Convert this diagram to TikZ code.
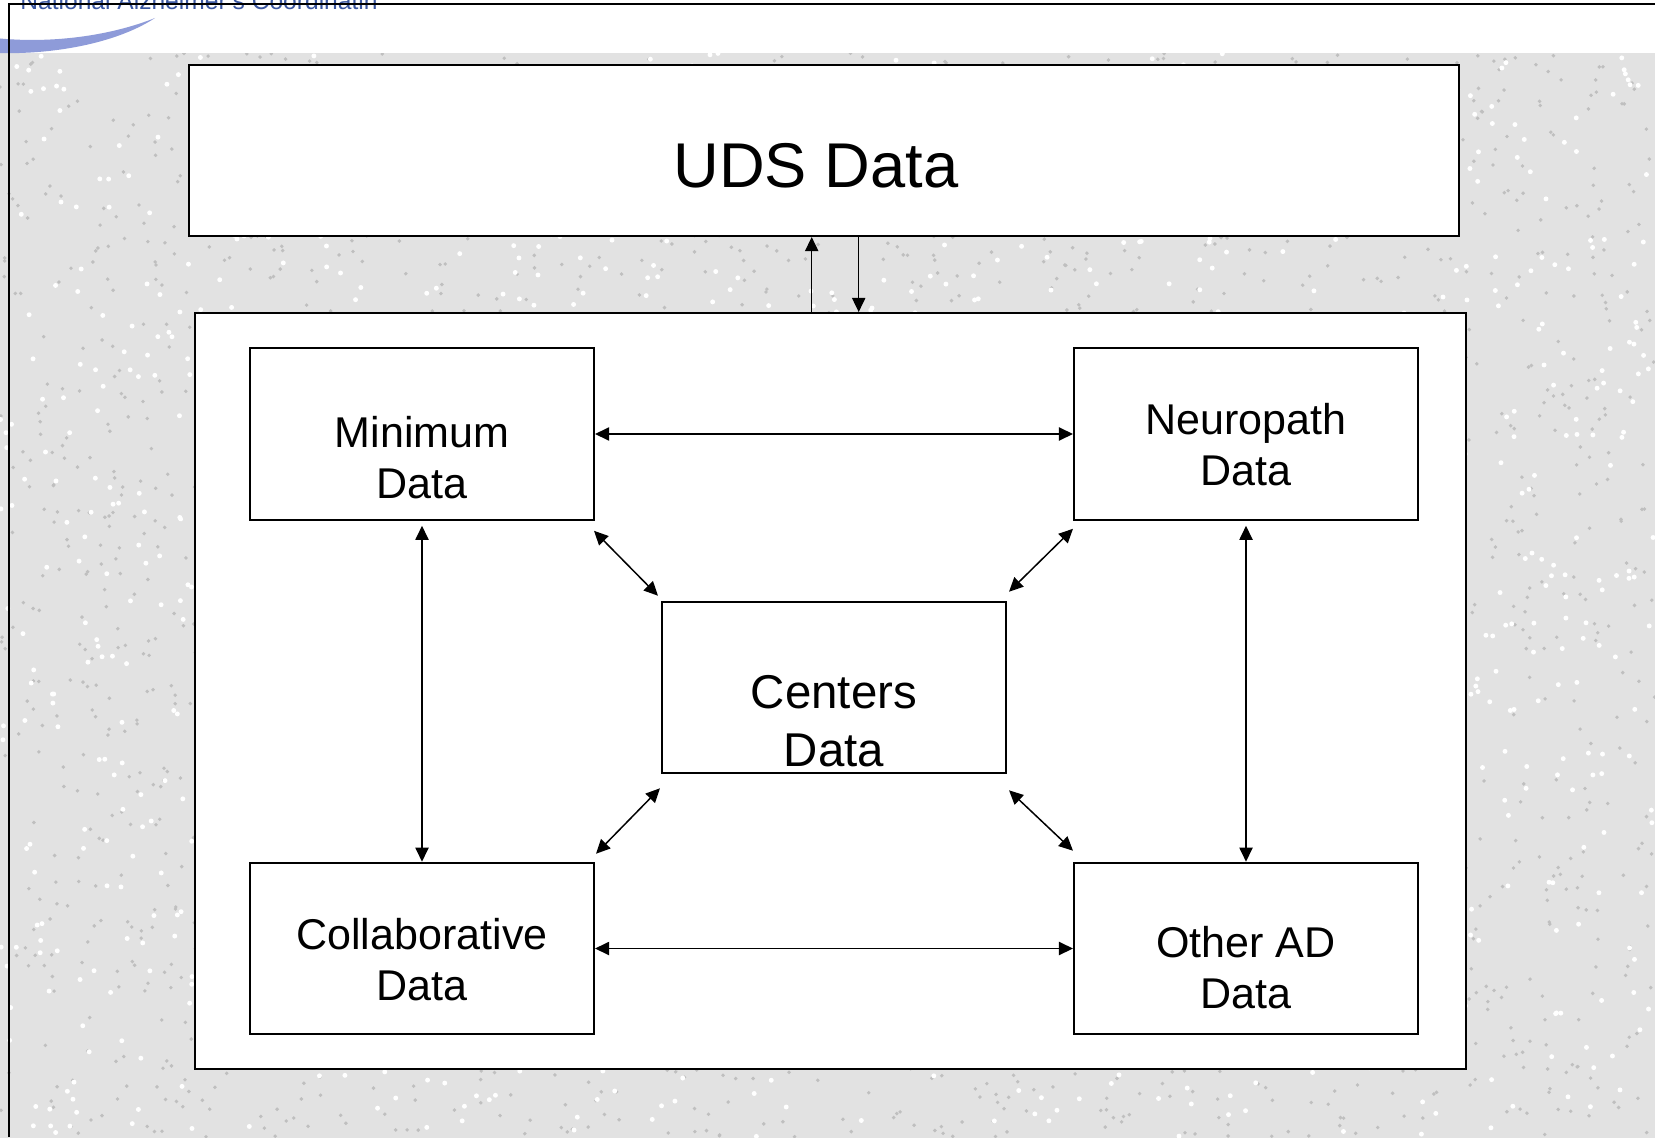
\documentclass[tikz,border=0pt]{standalone}
\usepackage{fontspec}
\setmainfont{Liberation Sans}
\usetikzlibrary{arrows.meta}

\definecolor{ncblue}{HTML}{3A56A0}
\definecolor{swoosh}{HTML}{8E9BD9}
\definecolor{granite}{HTML}{E2E2E2}

\begin{document}
\begin{tikzpicture}[x=0.02cm,y=-0.02cm,
    box/.style={draw=black,fill=white,line width=1.2pt,inner sep=0pt},
    databox/.style={box,minimum width=6.88cm,minimum height=3.43cm},
    lbl/.style={align=center,inner sep=0pt,font=\fontsize{24.5}{29}\selectfont},
    link/.style={line width=0.85pt,>={Triangle[length=8pt,width=7.5pt]}}]
    \tikzstyle{speck}=[fill=gray!50]

    % page and granite backdrop
    \useasboundingbox (0,0) rectangle (1655,1138);
    \fill[granite] (0,0) rectangle (1655,1138);
    \pgfmathsetseed{4242}
    \foreach \i in {1,...,2600}
        \fill[speck] (rnd*1655,53+rnd*1085) circle[radius=1.1pt];
    \foreach \i in {1,...,1400}
        \fill[white] (rnd*1655,53+rnd*1085) circle[radius=1.4pt];
    \fill[white] (0,0) rectangle (1655,53);

    % logo remnant
    \fill[swoosh] (-5,38) .. controls (50,44) and (110,36) .. (155,18)
        .. controls (120,41) and (60,55) .. (-5,53) -- cycle;
    \node[anchor=base west,inner sep=0pt,text=ncblue,font=\fontsize{14}{16}\selectfont]
        (ncname) at (20,10) {National Alzheimer's Coordinatin};
    \draw[line width=1pt] (9,1137) -- (9,4) -- (1670,4);

    % boxes
    \node[box,minimum width=25.42cm,minimum height=3.42cm] (uds) at (824,150.5) {};
    \node[inner sep=0pt,font=\fontsize{36}{43}\selectfont] (uds-t)
        at ([xshift=-0.16cm,yshift=-0.31cm]uds.center) {UDS Data};
    \node[box,minimum width=25.42cm,minimum height=15.12cm] (hub) at (830.5,691) {};

    \node[databox] (min) at (422,434) {};
    \node[databox] (nrp) at (1246,434) {};
    \node[databox] (ctr) at (834,687.5) {};
    \node[databox] (col) at (422,948.5) {};
    \node[databox] (oth) at (1246,948.5) {};

    \node[lbl] (min-t) at ([yshift=-0.47cm]min.center) {Minimum\\Data};
    \node[lbl] (nrp-t) at ([yshift=-0.22cm]nrp.center) {Neuropath\\Data};
    \node[lbl,font=\fontsize{27}{33}\selectfont] (ctr-t)
        at ([yshift=-0.67cm]ctr.center) {Centers\\Data};
    \node[lbl] (col-t) at ([yshift=-0.23cm]col.center) {Collaborative\\Data};
    \node[lbl] (oth-t) at ([yshift=-0.39cm]oth.center) {Other AD\\Data};

    % links
    \coordinate (up-a) at ([xshift=-0.376cm]hub.north);
    \coordinate (dn-a) at ([xshift=0.564cm]hub.north);
    \draw[link,->] (up-a) -- (up-a |- uds.south);
    \draw[link,->] (dn-a |- uds.south) -- (dn-a);

    \draw[link,<->] (min.east) -- (nrp.west);
    \draw[link,<->] (col.east) -- (oth.west);
    \draw[link,<->,shorten <=0.1cm] (min.south) -- (col.north);
    \draw[link,<->,shorten <=0.1cm] (nrp.south) -- (oth.north);

    \draw[link,<->] ([shift={(-1,10)}]min.south east) -- ([shift={(-3,-5)}]ctr.north west);
    \draw[link,<->] ([shift={(0,8)}]nrp.south west) -- ([shift={(2,-9)}]ctr.north east);
    \draw[link,<->] ([shift={(-1,14)}]ctr.south west) -- ([shift={(1,-8)}]col.north east);
    \draw[link,<->] ([shift={(2,16)}]ctr.south east) -- ([shift={(0,-11)}]oth.north west);

\end{tikzpicture}
\end{document}
